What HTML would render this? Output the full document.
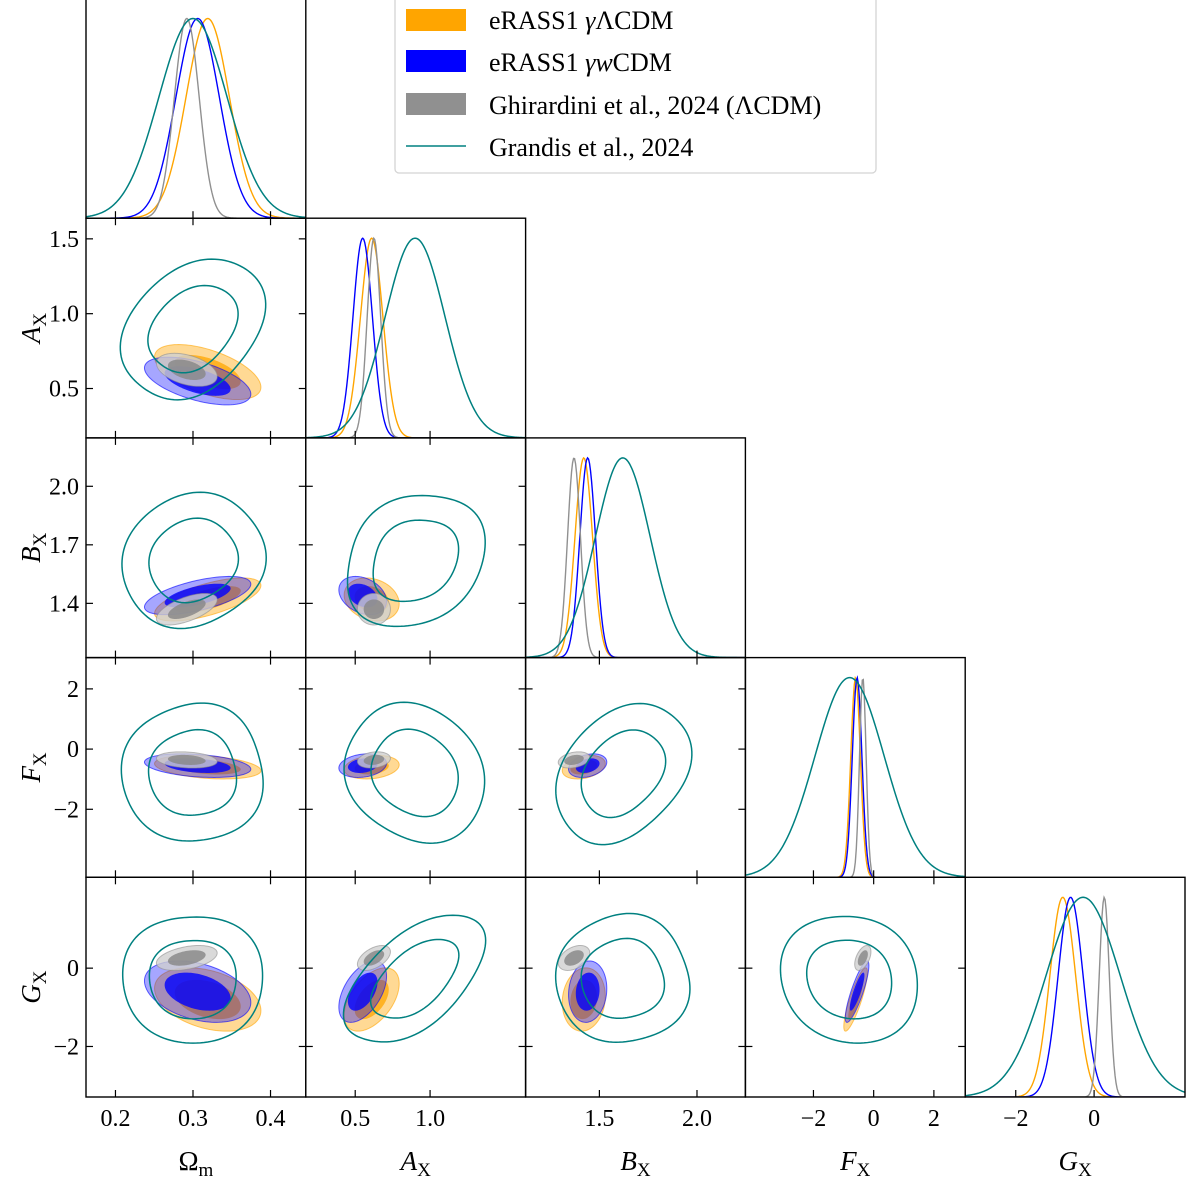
<!DOCTYPE html>
<html><head><meta charset="utf-8"><style>
html,body{margin:0;padding:0;background:#fff;}
svg{display:block;font-family:"Liberation Serif",serif;}
</style></head><body>
<svg id="chart" width="1200" height="1183" viewBox="0 0 1200 1183"></svg>
<script>
// ---- data ----
const paramNames = ["Om","AX","BX","FX","GX"];
const datasetNames = ["eRASS1 gammaLCDM","eRASS1 gammawCDM","Ghirardini 2024","Grandis 2024"];
const orangeMean = [0.319, 0.61, 1.42, -0.6, -0.8];
const orangeSigma = [0.028, 0.075, 0.045, 0.16, 0.33];
const blueMean = [0.306, 0.55, 1.44, -0.55, -0.6];
const blueSigma = [0.028, 0.065, 0.04, 0.16, 0.32];
const grayMean = [0.292, 0.625, 1.37, -0.36, 0.26];
const graySigma = [0.016, 0.045, 0.033, 0.11, 0.13];
const grandisMean = [0.30, 0.9, 1.62, -0.8, -0.28];
const grandisSigma1D = [0.044, 0.2, 0.14, 1.15, 0.95];
const grandisSigma2D = [0.0375, 0.19, 0.14, 0.94, 0.67];
// pair order: (0,1),(0,2),(0,3),(0,4),(1,2),(1,3),(1,4),(2,3),(2,4),(3,4)
const orangeRho = [-0.55, 0.65, -0.3, -0.35, -0.2, 0.2, 0.5, 0.3, 0.1, 0.85];
const blueRho = [-0.55, 0.6, -0.3, -0.35, -0.3, 0.2, 0.5, 0.3, 0.1, 0.85];
const grayRho = [-0.4, 0.6, -0.2, 0.4, 0.0, 0.2, 0.5, 0.3, 0.4, 0.5];
const grandisRho = [0.3, 0.1, 0.0, 0.0, 0.2, -0.15, 0.55, 0.3, 0.0, -0.1];
const grandisWobble = [0.02, 0.02, 0.025, 0.02, 0.025, 0.02, 0.02, 0.02, 0.025, 0.015];
const xTickVals = [[0.2,0.3,0.4],[0.5,1.0],[1.5,2.0],[-2,0,2],[-2,0]];
const xTickText = [["0.2","0.3","0.4"],["0.5","1.0"],["1.5","2.0"],["−2","0","2"],["−2","0"]];
const yTickVals = [[],[0.5,1.0,1.5],[1.4,1.7,2.0],[-2,0,2],[-2,0]];
const yTickText = [[],["0.5","1.0","1.5"],["1.4","1.7","2.0"],["−2","0","2"],["−2","0"]];

// ---- layout ----
const lo = [0.162, 0.17, 1.122, -4.26, -3.29];
const hi = [0.4455, 1.638, 2.248, 3.04, 2.32];
const W = 219.8, H = 219.7;
const colLeft = c => 86 + W*c;
const rowTop = r => -1.5 + H*r;
const px = (c,v) => colLeft(c) + (v-lo[c])/(hi[c]-lo[c])*W;
const py = (r,v) => rowTop(r) + H - (v-lo[r])/(hi[r]-lo[r])*H;
const pairIdx = (i,j) => { let k=0; for(let a=0;a<5;a++)for(let b=a+1;b<5;b++){ if(a===i&&b===j) return k; k++; } return -1; };

const NS = "http://www.w3.org/2000/svg";
const svg = document.getElementById("chart");
function mk(tag, attrs, parent){ const e=document.createElementNS(NS,tag); for(const k in attrs) e.setAttribute(k,attrs[k]); (parent||svg).appendChild(e); return e; }

const defs = mk("defs",{});
const datasets = [
  {mean:orangeMean, sig:orangeSigma, sig2:orangeSigma, rho:orangeRho, fillOut:"#ffa500", fillIn:"#ffa500", aOut:0.42, aIn:0.75, line:"#ffa500", filled:true, levels:[1.52,2.45], id:"orange"},
  {mean:blueMean, sig:blueSigma, sig2:blueSigma, rho:blueRho, fillOut:"#0000ff", fillIn:"#0000ff", aOut:0.35, aIn:0.8, line:"#0000ff", filled:true, levels:[1.52,2.45], id:"blue"},
  {mean:grayMean, sig:graySigma, sig2:graySigma, rho:grayRho, fillOut:"#d0d0d0", fillIn:"#8a8a8a", aOut:0.8, aIn:0.85, line:"#909090", filled:true, levels:[1.52,2.45], id:"gray"},
  {mean:grandisMean, sig:grandisSigma1D, sig2:grandisSigma2D, rho:grandisRho, line:"#008080", filled:false, levels:[1.52,2.45], id:"grandis"}
];

for(let r=0;r<5;r++){
  for(let c=0;c<=r;c++){
    const g = mk("g",{});
    
    
    const cid = "clip"+r+"_"+c;
    const cp = mk("clipPath",{id:cid},defs);
    mk("rect",{x:colLeft(c),y:rowTop(r),width:W,height:H},cp);
    const inner = mk("g",{"clip-path":"url(#"+cid+")"},g);
    if(r===c){
      datasets.forEach(d=>{
        let pts=[];
        for(let k=0;k<=220;k++){
          const v = lo[c]+(hi[c]-lo[c])*k/220;
          const z = (v-d.mean[c])/d.sig[c];
          const dens = Math.exp(-0.5*z*z);
          const yy = rowTop(r)+H - dens*(H-20);
          pts.push(px(c,v).toFixed(2)+","+yy.toFixed(2));
        }
        const pl = mk("polyline",{points:pts.join(" "),fill:"none",stroke:d.line,"stroke-width":d.filled?1.4:1.5},inner);
        
        
      });
    } else {
      const pi = pairIdx(c,r);
      datasets.forEach(d=>{
        const rho = d.rho[pi];
        const lev = d.levels;
        const wob = d.filled ? 0 : grandisWobble[pi];
        const ell = k => {
          let s="";
          for(let t=0;t<=120;t++){
            const a = t/120*2*Math.PI;
            const f = 1 + wob*Math.cos(4*a+pi) + wob*0.8*Math.sin(3*a+2*pi);
            const vx = d.mean[c] + f*k*d.sig2[c]*Math.cos(a);
            const vy = d.mean[r] + f*k*d.sig2[r]*(rho*Math.cos(a)+Math.sqrt(1-rho*rho)*Math.sin(a));
            s += (t?"L":"M")+px(c,vx).toFixed(2)+","+py(r,vy).toFixed(2);
          }
          return s+"Z";
        };
        if(d.filled){
          const o = mk("path",{d:ell(lev[1]),fill:d.fillOut,"fill-opacity":d.aOut,stroke:d.line,"stroke-opacity":0.6,"stroke-width":1},inner);
          
          
          const i2 = mk("path",{d:ell(lev[0]),fill:d.fillIn,"fill-opacity":d.aIn,stroke:"none"},inner);
          
          
        } else {
          lev.forEach((k,li)=>{
            const p = mk("path",{d:ell(k),fill:"none",stroke:d.line,"stroke-width":1.5},inner);
            
            
          });
        }
      });
    }
    mk("rect",{x:colLeft(c),y:rowTop(r),width:W,height:H,fill:"none",stroke:"#000","stroke-width":1.4},g);
    xTickVals[c].forEach(v=>{
      const x = px(c,v);
      mk("line",{x1:x,x2:x,y1:rowTop(r)+H,y2:rowTop(r)+H-7,stroke:"#000","stroke-width":1.2},g);
      if(r!==c) mk("line",{x1:x,x2:x,y1:rowTop(r),y2:rowTop(r)+7,stroke:"#000","stroke-width":1.2},g);
    });
    if(r!==c){
      yTickVals[r].forEach(v=>{
        const y = py(r,v);
        mk("line",{x1:colLeft(c),x2:colLeft(c)+7,y1:y,y2:y,stroke:"#000","stroke-width":1.2},g);
        mk("line",{x1:colLeft(c)+W,x2:colLeft(c)+W-7,y1:y,y2:y,stroke:"#000","stroke-width":1.2},g);
      });
    }
  }
}

for(let c=0;c<5;c++){
  xTickVals[c].forEach((v,i)=>{
    const t = mk("text",{x:px(c,v),y:1126,"font-size":24,"text-anchor":"middle"});
    t.textContent = xTickText[c][i];
    
    
  });
}
for(let r=1;r<5;r++){
  yTickVals[r].forEach((v,i)=>{
    const t = mk("text",{x:79,y:py(r,v)+8,"font-size":24,"text-anchor":"end"});
    t.textContent = yTickText[r][i];
    
    
  });
}
const labMain = ["Ω","A","B","F","G"];
const labSub = ["m","X","X","X","X"];
for(let c=0;c<5;c++){
  const t = mk("text",{x:colLeft(c)+W/2,y:1170,"font-size":27,"text-anchor":"middle"});
  const a = mk("tspan",{"font-style":c?"italic":"normal"},t); a.textContent = labMain[c];
  const b = mk("tspan",{dy:6,"font-size":19},t); b.textContent = labSub[c];
  
  
}
for(let r=1;r<5;r++){
  const cy = rowTop(r)+H/2;
  const t = mk("text",{x:0,y:0,"font-size":27,"text-anchor":"middle",transform:"translate(40,"+cy+") rotate(-90)"});
  const a = mk("tspan",{"font-style":"italic"},t); a.textContent = labMain[r];
  const b = mk("tspan",{dy:6,"font-size":19},t); b.textContent = labSub[r];
  
  
}
</script>
<svg width="1200" height="1183" style="position:absolute;left:0;top:0;pointer-events:none;font-family:'Liberation Serif',serif">
  <g>
    <rect x="395" y="-6" width="481" height="179" rx="4" fill="#fff" fill-opacity="0.9" stroke="#d4d4d4" stroke-width="1.3"/>
    <rect x="406" y="9" width="60" height="22" fill="#ffa500"/>
    <rect x="406" y="50" width="60" height="22" fill="#0000ff"/>
    <rect x="406" y="93" width="60" height="22" fill="#909090"/>
    <line x1="406" x2="466" y1="146" y2="146" stroke="#008080" stroke-width="1.5"/>
    <text x="489" y="29" font-size="26">eRASS1 <tspan font-style="italic">γ</tspan>ΛCDM</text>
    <text x="489" y="71" font-size="26">eRASS1 <tspan font-style="italic">γw</tspan>CDM</text>
    <text x="489" y="114" font-size="26">Ghirardini et al., 2024 (ΛCDM)</text>
    <text x="489" y="156" font-size="26">Grandis et al., 2024</text>
  </g>
</svg>
</body></html>
